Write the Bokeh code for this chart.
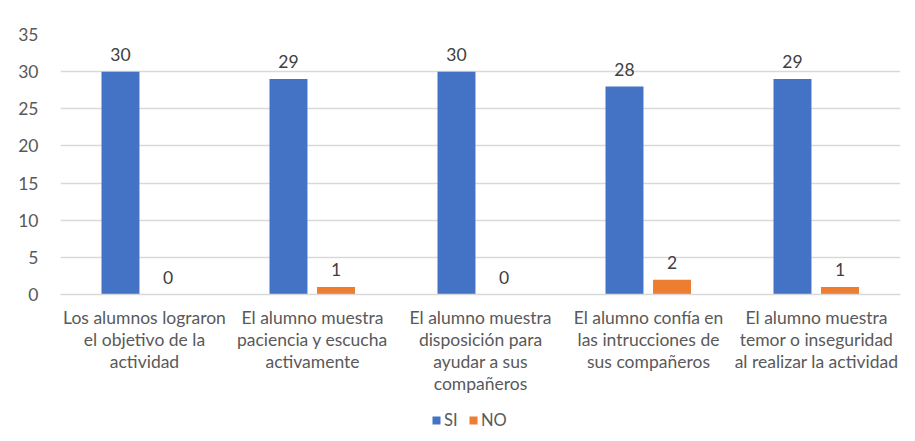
from bokeh.plotting import figure
from bokeh.layouts import column
from bokeh.models import ColumnDataSource, FactorRange, Legend, LegendItem, Range1d
from bokeh.transform import dodge
from bokeh.core.properties import value
from bokeh.embed import file_html
from bokeh.resources import INLINE

categories = [
    "Los alumnos lograron\nel objetivo de la\nactividad",
    "El alumno muestra\npaciencia y escucha\nactivamente",
    "El alumno muestra\ndisposición para\nayudar a sus\ncompañeros",
    "El alumno confía en\nlas intrucciones de\nsus compañeros",
    "El alumno muestra\ntemor o inseguridad\nal realizar la actividad",
]
si_values = [30, 29, 30, 28, 29]
no_values = [0, 1, 0, 2, 1]
y_ticks = [0, 5, 10, 15, 20, 25, 30, 35]

FONT = "Lato"
FS = "17.5px"
src = ColumnDataSource(dict(cat=categories, si=si_values, no=no_values,
                            si_t=[str(v) for v in si_values],
                            no_t=[str(v) for v in no_values]))

p = figure(width=907, height=396, x_range=FactorRange(*categories),
           y_range=Range1d(0, 35), output_backend="svg", toolbar_location=None,
           min_border_left=60, min_border_right=7, min_border_top=34, min_border_bottom=10)
p.outline_line_color = None
p.background_fill_color = "white"
p.border_fill_color = "white"

r_si = p.vbar(x=dodge("cat", -0.143, range=p.x_range), top="si", width=0.226,
              source=src, fill_color="#4472C4", line_color=None)
r_no = p.vbar(x=dodge("cat", 0.14, range=p.x_range), top="no", width=0.226,
              source=src, fill_color="#ED7D31", line_color=None)

p.text(x=dodge("cat", -0.143, range=p.x_range), y="si", text="si_t", source=src,
       text_align="center", text_baseline="bottom", y_offset=-11,
       text_font=value(FONT), text_font_size=FS, text_color="#404040")
p.text(x=dodge("cat", 0.14, range=p.x_range), y="no", text="no_t", source=src,
       text_align="center", text_baseline="bottom", y_offset=-11,
       text_font=value(FONT), text_font_size=FS, text_color="#404040")

p.xgrid.grid_line_color = None
p.ygrid.grid_line_color = "#d9d9d9"
p.ygrid.grid_line_width = 1.3
p.yaxis.ticker = y_ticks
p.yaxis.axis_line_color = None
p.yaxis.major_tick_line_color = None
p.yaxis.minor_tick_line_color = None
p.yaxis.major_label_text_font = FONT
p.yaxis.major_label_text_font_size = FS
p.yaxis.major_label_text_color = "#595959"
p.yaxis.major_label_standoff = 16

p.xaxis.axis_line_color = "#d9d9d9"
p.xaxis.axis_line_width = 1.3
p.xaxis.major_tick_line_color = None
p.xaxis.minor_tick_line_color = None
p.xaxis.major_label_text_font = FONT
p.xaxis.major_label_text_font_size = FS
p.xaxis.major_label_text_color = "#595959"
p.xaxis.major_label_text_line_height = 1.05
p.xaxis.major_label_standoff = 6
p.xaxis.major_label_orientation = "horizontal"

# legend strip below the chart
p2 = figure(width=907, height=37, x_range=FactorRange(*categories),
            y_range=Range1d(100, 101), output_backend="svg", toolbar_location=None,
            min_border=0)
p2.outline_line_color = None
p2.axis.visible = False
p2.grid.grid_line_color = None
l_si = p2.vbar(x="cat", top="si", width=0.2, source=src, fill_color="#4472C4", line_color=None)
l_no = p2.vbar(x="cat", top="no", width=0.2, source=src, fill_color="#ED7D31", line_color=None)
legend = Legend(items=[LegendItem(label="SI", renderers=[l_si]),
                       LegendItem(label="NO", renderers=[l_no])],
                orientation="horizontal", location=(371, 3),
                label_text_font=FONT, label_text_font_size="16.5px",
                label_text_color="#595959", glyph_width=10, glyph_height=10,
                label_standoff=3, spacing=4, border_line_color=None,
                background_fill_alpha=0, margin=0, padding=0)
p2.add_layout(legend, "center")

layout = column(p, p2, spacing=0)
open("out.html", "w").write(file_html(layout, INLINE))
